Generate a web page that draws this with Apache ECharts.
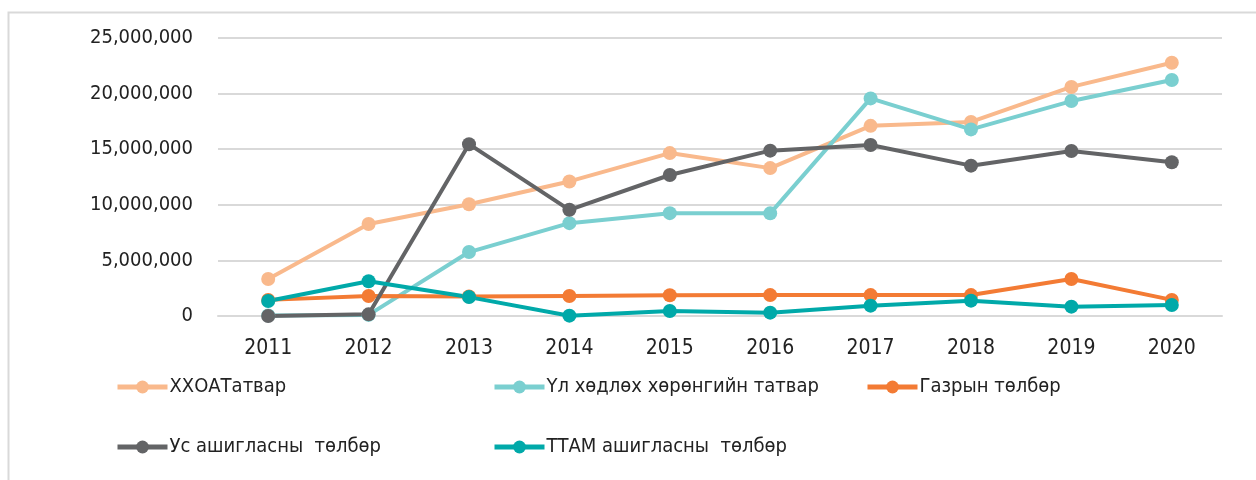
<!DOCTYPE html>
<html>
<head>
<meta charset="utf-8">
<title>Орон нутгийн татвар, төлбөр</title>
<script src="https://cdn.jsdelivr.net/npm/echarts@6/dist/echarts.min.js"></script>
<style>
	html, body { margin: 0; padding: 0; background: #fff; }
	#chart { width: 1256px; height: 480px; }
</style>
</head>
<body>
<div id="chart"></div>
<script>
// data
const years = ['2011', '2012', '2013', '2014', '2015', '2016', '2017', '2018', '2019', '2020'];
const hhoatValues = [3330000, 8270000, 10050000, 12100000, 14650000, 13300000, 17100000, 17450000, 20600000, 22780000];
const ulHodlohValues = [50000, 100000, 5750000, 8350000, 9250000, 9230000, 19570000, 16780000, 19330000, 21220000];
const gazarValues = [1450000, 1800000, 1750000, 1800000, 1860000, 1880000, 1880000, 1880000, 3330000, 1450000];
const usValues = [0, 150000, 15450000, 9550000, 12680000, 14870000, 15380000, 13520000, 14840000, 13820000];
const ttamValues = [1350000, 3120000, 1700000, 30000, 450000, 300000, 930000, 1380000, 840000, 990000];
const yTicks = [0, 5000000, 10000000, 15000000, 20000000, 25000000];

const seriesNames = ['ХХОАТатвар', 'Үл хөдлөх хөрөнгийн татвар', 'Газрын төлбөр', 'Ус ашигласны  төлбөр', 'ТТАМ ашигласны  төлбөр'];
const seriesColors = ['#F9B98C', '#7ACFD0', '#F37B34', '#636466', '#00A9A9'];
const seriesData = [hhoatValues, ulHodlohValues, gazarValues, usValues, ttamValues];

const FONT = '"DejaVu Sans Condensed", "Liberation Sans", sans-serif';

function setLineChart(id) {
	const chart = echarts.init(document.getElementById(id), null, { renderer: 'canvas' });

	// one legend per item so each can sit where it does in the picture
	const legendPos = [
		[115, 377], [492, 377], [865, 377],
		[115, 437], [492, 437]
	];
	const legends = seriesNames.map(function (name, i) {
		return {
			data: [name],
			left: legendPos[i][0],
			top: legendPos[i][1],
			padding: 0,
			itemWidth: 50,
			itemHeight: 16,
			itemGap: 3,
			lineStyle: { width: 5 },
			textStyle: { fontFamily: FONT, fontSize: 20, color: '#222', padding: [0, 0, 0, -3] }
		};
	});

	const series = seriesNames.map(function (name, i) {
		return {
			name: name,
			type: 'line',
			data: seriesData[i],
			color: seriesColors[i],
			symbol: 'circle',
			symbolSize: 14,
			lineStyle: { width: 4 },
			itemStyle: { color: seriesColors[i] },
			emphasis: { disabled: true },
			animation: false
		};
	});

	const option = {
		backgroundColor: '#fff',
		animation: false,
		graphic: [{
			type: 'rect',
			left: 6,
			top: 10,
			shape: { width: 1300, height: 520 },
			style: { fill: 'none', stroke: '#D9D9D9', lineWidth: 2 },
			silent: true
		}],
		legend: legends,
		grid: {
			left: 218,
			right: 34,
			top: 38,
			bottom: 164,
			containLabel: false
		},
		xAxis: {
			type: 'category',
			data: years,
			boundaryGap: true,
			axisLine: { show: true, lineStyle: { color: '#D9D9D9', width: 2 } },
			axisTick: { show: false },
			axisLabel: { fontFamily: FONT, fontSize: 21, color: '#222', margin: 22 }
		},
		yAxis: {
			type: 'value',
			min: yTicks[0],
			max: yTicks[yTicks.length - 1],
			interval: yTicks[1] - yTicks[0],
			axisLine: { show: false },
			axisTick: { show: false },
			splitLine: { lineStyle: { color: '#D9D9D9', width: 2 } },
			axisLabel: {
				fontFamily: FONT,
				fontSize: 20,
				color: '#222',
				margin: 25,
				formatter: function (v) {
					return v.toString().replace(/\B(?=(\d{3})+(?!\d))/g, ',');
				}
			}
		},
		series: series
	};

	chart.setOption(option);
	window.onresize = chart.resize;
}

setLineChart('chart');
</script>
</body>
</html>
